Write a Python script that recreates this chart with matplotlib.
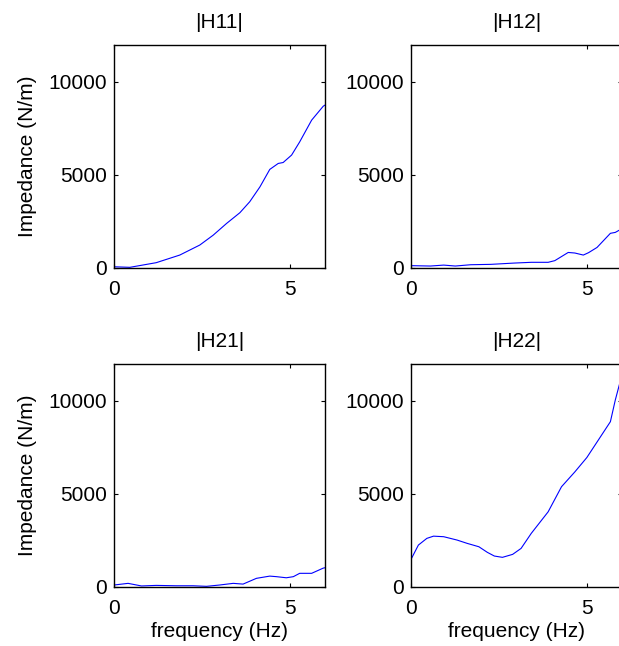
import matplotlib
matplotlib.use("Agg")
import matplotlib.pyplot as plt

plt.rcParams['font.family'] = ['Liberation Sans', 'DejaVu Sans']

# frequency (Hz) / impedance (N/m) samples
f11 = [0, 0.45, 1.2, 1.87, 2.44, 2.82, 3.2, 3.58, 3.86, 4.15, 4.43, 4.67, 4.81, 5.05, 5.28, 5.62, 5.95, 6.0]
h11 = [50, 20, 270, 680, 1220, 1750, 2380, 2960, 3550, 4350, 5290, 5610, 5660, 6060, 6770, 7940, 8690, 8750]

f12 = [0, 0.55, 0.93, 1.26, 1.7, 2.27, 2.94, 3.42, 3.9, 4.09, 4.47, 4.66, 4.9, 5.05, 5.29, 5.67, 5.81, 5.98, 6.0]
h12 = [110, 90, 140, 90, 160, 180, 250, 290, 290, 380, 820, 790, 680, 810, 1090, 1850, 1900, 2080, 2100]

f21 = [0, 0.4, 0.78, 1.2, 1.77, 2.25, 2.63, 3.0, 3.39, 3.67, 4.05, 4.43, 4.62, 4.9, 5.1, 5.28, 5.62, 5.95, 6.0]
h21 = [90, 180, 40, 70, 50, 50, 20, 90, 180, 140, 450, 570, 540, 480, 540, 720, 720, 1000, 1020]

f22 = [0, 0.21, 0.45, 0.64, 0.93, 1.31, 1.6, 1.93, 2.17, 2.37, 2.6, 2.89, 3.13, 3.42, 3.9, 4.28, 4.66, 5.0, 5.33, 5.67, 5.81, 5.96, 6.0]
h22 = [1470, 2240, 2600, 2720, 2690, 2510, 2330, 2150, 1850, 1650, 1580, 1740, 2060, 2870, 4030, 5380, 6180, 6950, 7900, 8880, 10050, 11120, 11450]

titles = ['|H11|', '|H12|', '|H21|', '|H22|']
series = [(f11, h11), (f12, h12), (f21, h21), (f22, h22)]

fig = plt.figure(figsize=(6.19, 6.46), dpi=100)

# axes boxes in pixels (right column runs past the image edge, as in the source)
W, H = 619.0, 646.0
lefts = [114, 411]
bottoms = [267.7, 586.7]
aw, ah = 211, 223

for i, (title, (f, h)) in enumerate(zip(titles, series)):
    row, col = divmod(i, 2)
    ax = fig.add_axes([lefts[col] / W, (H - bottoms[row]) / H, aw / W, ah / H])
    ax.plot(f, h, color='blue', lw=0.8)
    ax.set_xlim(0, 6)
    ax.set_ylim(0, 12000)
    ax.set_xticks([0, 5])
    ax.set_yticks([0, 5000, 10000])
    ax.tick_params(direction='in', length=3, width=0.8, labelsize=15,
                   top=True, right=True)
    ax.tick_params(axis='x', pad=9)
    ax.tick_params(axis='y', pad=5)
    for s in ax.spines.values():
        s.set_linewidth(1.0)
    ax.set_title(title, fontsize=15, pad=12)
    if col == 0:
        ax.set_ylabel('Impedance (N/m)', fontsize=15, labelpad=8)
    if row == 1:
        ax.set_xlabel('frequency (Hz)', fontsize=15, labelpad=3)

fig.savefig('out.png', dpi=100)
